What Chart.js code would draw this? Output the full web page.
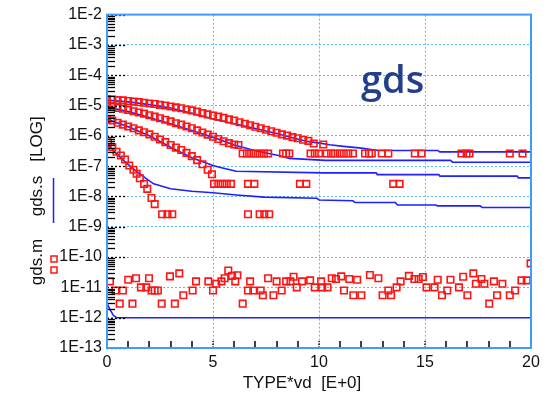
<!DOCTYPE html>
<html>
<head>
<meta charset="utf-8">
<script src="https://cdn.jsdelivr.net/npm/chart.js@4.4.1/dist/chart.umd.min.js"></script>
<style>
html,body{margin:0;padding:0;background:#fff;}
</style>
</head>
<body>
<canvas id="graph" width="553" height="399"></canvas>
<script>
// axis ticks
const xTickValues = [0, 5, 10, 15, 20];
const xTickLabels = ['0', '5', '10', '15', '20'];
const yTickValues = [1e-13, 1e-12, 1e-11, 1e-10, 1e-9, 1e-8, 1e-7, 1e-6, 1e-5, 1e-4, 1e-3, 1e-2];
const yTickLabels = ['1E-13', '1E-12', '1E-11', '1E-10', '1E-9', '1E-8', '1E-7', '1E-6', '1E-5', '1E-4', '1E-3', '1E-2'];

// simulated gds (blue lines)
const simVd1 = [0, 1, 2, 3, 4, 5, 6, 7, 8, 9.1, 9.6, 10.05, 10.5, 11.15, 11.9, 12.8, 15.6, 15.7, 20];
const simGds1 = [1.51e-5, 1.32e-5, 1.07e-5, 8.3e-6, 5.6e-6, 3.6e-6, 2.5e-6, 1.74e-6, 1.2e-6, 7.4e-7, 6.3e-7, 5.75e-7, 5.1e-7, 4.5e-7, 4.0e-7, 3.3e-7, 3.3e-7, 2.95e-7, 2.95e-7];
const simVd2 = [0, 1, 2, 3, 4, 5, 6, 7, 8.2, 8.6, 10.3, 16.2, 16.3, 20];
const simGds2 = [8.9e-6, 6.3e-6, 4.0e-6, 2.5e-6, 1.5e-6, 8.9e-7, 5.0e-7, 3.2e-7, 2.15e-7, 1.8e-7, 1.55e-7, 1.55e-7, 1.35e-7, 1.35e-7];
const simVd3 = [0, 1, 2, 3, 4, 5, 5.4, 6.1, 10.2, 12.7, 12.75, 15.65, 15.7, 19.35, 19.4, 20];
const simGds3 = [3.5e-6, 2.0e-6, 1.0e-6, 4.2e-7, 1.9e-7, 1.05e-7, 8.9e-8, 6.8e-8, 6.0e-8, 6.0e-8, 5.25e-8, 5.25e-8, 4.7e-8, 4.7e-8, 4.1e-8, 4.1e-8];
const simVd4 = [0, 0.4, 0.8, 1.43, 2.2, 3, 4, 5, 6.1, 7.4, 9.9, 10, 11.6, 11.7, 13.6, 13.7, 15.5, 15.6, 17.6, 17.7, 20];
const simGds4 = [5.6e-7, 2.8e-7, 1.5e-7, 6.3e-8, 2.6e-8, 1.8e-8, 1.48e-8, 1.32e-8, 1.12e-8, 9.5e-9, 8.7e-9, 7.6e-9, 7.2e-9, 6.3e-9, 6.3e-9, 5.25e-9, 5.25e-9, 4.9e-9, 4.9e-9, 4.3e-9, 4.3e-9];
const simVd5 = [0, 0.15, 0.3, 0.45, 20];
const simGds5 = [3.0e-12, 1.8e-12, 1.2e-12, 1.0e-12, 1.0e-12];

// measured gds (red squares)
const measVd1 = [0, 0.25, 0.5, 0.75, 1, 1.25, 1.5, 1.75, 2, 2.25, 2.5, 2.75, 3, 3.25, 3.5, 3.75, 4, 4.25, 4.5, 4.75, 5, 5.25, 5.5, 5.75, 6, 6.25, 6.5, 6.75, 7, 7.25, 7.5, 7.75, 8, 8.25, 8.5, 8.75, 9, 9.25, 9.5, 9.75, 10.2,
  10.36, 10.57, 10.76, 10.98, 11.17, 11.38, 11.6, 12.17, 12.36, 12.49, 12.96, 13.27, 14.52, 14.84, 16.72, 16.96, 17.1, 19.0, 19.6];
const measGds1 = [1.62e-5, 1.58e-5, 1.51e-5, 1.48e-5, 1.41e-5, 1.35e-5, 1.29e-5, 1.23e-5, 1.17e-5, 1.12e-5, 1.05e-5, 1.0e-5, 9.3e-6, 8.7e-6, 8.1e-6, 7.4e-6, 6.9e-6, 6.3e-6, 5.6e-6, 5.1e-6, 4.7e-6, 4.3e-6, 3.9e-6, 3.5e-6, 3.2e-6, 2.8e-6, 2.5e-6, 2.24e-6, 2.0e-6, 1.78e-6, 1.58e-6, 1.41e-6, 1.26e-6, 1.12e-6, 1.02e-6, 9.1e-7, 8.3e-7, 7.4e-7, 6.8e-7, 5.6e-7, 5.2e-7,
  2.6e-7, 2.6e-7, 2.6e-7, 2.6e-7, 2.6e-7, 2.6e-7, 2.6e-7, 2.6e-7, 2.6e-7, 2.6e-7, 2.6e-7, 2.6e-7, 2.6e-7, 2.6e-7, 2.6e-7, 2.6e-7, 2.6e-7, 2.6e-7, 2.6e-7];
const measVd2 = [0, 0.25, 0.5, 0.75, 1, 1.25, 1.5, 1.75, 2, 2.25, 2.5, 2.75, 3, 3.25, 3.5, 3.75, 4, 4.25, 4.5, 4.75, 5, 5.25, 5.5, 5.75, 6, 6.2,
  6.4, 6.6, 6.8, 7.0, 7.2, 7.4, 7.6, 8.3, 8.45, 8.6, 9.6, 9.8, 10.0];
const measGds2 = [9.5e-6, 8.9e-6, 8.3e-6, 7.8e-6, 7.1e-6, 6.5e-6, 5.9e-6, 5.4e-6, 4.8e-6, 4.3e-6, 3.8e-6, 3.4e-6, 3.0e-6, 2.6e-6, 2.35e-6, 2.04e-6, 1.78e-6, 1.51e-6, 1.29e-6, 1.1e-6, 9.3e-7, 7.9e-7, 6.6e-7, 5.75e-7, 5.2e-7, 5.0e-7,
  2.6e-7, 2.6e-7, 2.6e-7, 2.6e-7, 2.6e-7, 2.6e-7, 2.6e-7, 2.6e-7, 2.6e-7, 2.6e-7, 2.6e-7, 2.6e-7, 2.6e-7];
const measVd3 = [0, 0.25, 0.5, 0.75, 1, 1.25, 1.5, 1.75, 2, 2.25, 2.5, 2.75, 3, 3.25, 3.5, 3.75, 4, 4.25, 4.5, 4.75, 4.95,
  5.05, 5.25, 5.45, 5.65, 5.85, 6.65, 6.95, 9.1, 9.4, 13.5, 13.8];
const measGds3 = [3.5e-6, 3.2e-6, 2.7e-6, 2.35e-6, 2.04e-6, 1.78e-6, 1.51e-6, 1.32e-6, 1.12e-6, 9.3e-7, 7.6e-7, 6.2e-7, 5.0e-7, 4.1e-7, 3.4e-7, 2.75e-7, 2.14e-7, 1.58e-7, 1.15e-7, 7.6e-8, 5.4e-8,
  2.6e-8, 2.6e-8, 2.6e-8, 2.6e-8, 2.6e-8, 2.6e-8, 2.6e-8, 2.6e-8, 2.6e-8, 2.6e-8, 2.6e-8];
const measVd4 = [0.05, 0.25, 0.45, 0.65, 0.85, 1.05, 1.25, 1.4, 1.55, 1.75, 1.9, 2.1, 2.25, 2.6, 2.85, 3.08, 6.65, 7.2, 7.42, 7.65];
const measGds4 = [6.0e-7, 4.2e-7, 3.0e-7, 2.24e-7, 1.66e-7, 1.05e-7, 7.6e-8, 5.6e-8, 4.0e-8, 2.6e-8, 1.78e-8, 8.9e-9, 5.6e-9, 2.6e-9, 2.6e-9, 2.6e-9, 2.6e-9, 2.6e-9, 2.6e-9, 2.6e-9];
const measVd5 = [0.14, 0.4, 0.6, 0.75, 1.0, 1.2, 1.37, 1.6, 1.85, 1.98, 2.1, 2.25, 2.4, 2.58, 2.97, 3.2, 3.41, 3.6, 4.04, 4.2, 4.78,
  5.0, 5.15, 5.4, 5.55, 5.72, 5.9, 6.05, 6.15, 6.4, 6.65, 6.75, 6.9, 7.25, 7.35, 7.6, 7.85, 8.0, 8.24, 8.45, 8.65, 8.8, 8.95, 9.2, 9.58, 9.8,
  10.1, 10.15, 10.4, 10.6, 10.8, 11.05, 11.18, 11.43, 11.62, 11.8, 12.0, 12.4, 12.8, 13.0, 13.27, 13.4, 13.66, 13.85, 14.24, 14.5, 14.7, 14.9,
  15.07, 15.45, 15.6, 15.8, 16.05, 16.2, 16.6, 16.8, 17.0, 17.28, 17.4, 17.66, 17.8, 18.03, 18.25, 18.4, 18.65, 19.0, 19.25, 19.55, 19.8, 19.98];
const measGds5 = [1.58e-11, 7.9e-12, 2.9e-12, 7.9e-12, 1.78e-11, 2.9e-12, 2.0e-11, 1.0e-11, 1.0e-11, 2.0e-11, 7.9e-12, 7.9e-12, 7.9e-12, 2.9e-12, 2.3e-11, 2.9e-12, 2.9e-11, 5.5e-12, 7.9e-12, 1.58e-11, 1.58e-11,
  7.9e-12, 1.32e-11, 1.58e-11, 2.0e-11, 3.6e-11, 2.4e-11, 1.58e-11, 2.5e-11, 2.9e-12, 7.9e-12, 1.58e-11, 7.9e-12, 7.9e-12, 5.5e-12, 2.0e-11, 5.5e-12, 1.58e-11, 7.9e-12, 1.58e-11, 1.58e-11, 2.24e-11, 1.0e-11, 1.58e-11, 1.7e-11, 1.0e-11,
  1.58e-11, 1.0e-11, 1.0e-11, 2.0e-11, 1.9e-11, 2.3e-11, 7.9e-12, 1.9e-11, 5.5e-12, 1.78e-11, 5.5e-12, 2.57e-11, 2.0e-11, 5.5e-12, 7.9e-12, 5.5e-12, 1.0e-11, 1.58e-11, 2.4e-11, 1.9e-11, 1.9e-11, 2.2e-11,
  1.0e-11, 1.0e-11, 1.78e-11, 5.5e-12, 7.9e-12, 1.78e-11, 1.0e-11, 2.24e-11, 5.5e-12, 2.9e-11, 1.32e-11, 1.9e-11, 1.32e-11, 2.9e-12, 1.58e-11, 5.5e-12, 1.32e-11, 5.5e-12, 7.9e-12, 1.7e-11, 1.7e-11, 6.2e-11];

const simVd = [simVd1, simVd2, simVd3, simVd4, simVd5];
const simGds = [simGds1, simGds2, simGds3, simGds4, simGds5];
const measVd = [measVd1, measVd2, measVd3, measVd4, measVd5];
const measGds = [measGds1, measGds2, measGds3, measGds4, measGds5];

const BLUE = '#1f1fff';
const RED = '#ff1414';
const GRID = '#5cb8ff';
const FRAME = '#3f9cff';
const FONT = '"Liberation Sans", Arial, sans-serif';

function pairs(xs, ys) {
  return xs.map((x, i) => ({x: x, y: ys[i]}));
}

const datasets = [];
measVd.forEach((xs, i) => {
  datasets.push({
    label: 'gds.m ' + (i + 1),
    data: pairs(xs, measGds[i]),
    showLine: false,
    pointStyle: 'rect',
    pointRadius: 4.6,
    pointBorderColor: RED,
    pointBackgroundColor: 'rgba(0,0,0,0)',
    pointBorderWidth: 1.6,
    order: 1
  });
});
simVd.forEach((xs, i) => {
  datasets.push({
    label: 'gds.s ' + (i + 1),
    data: pairs(xs, simGds[i]),
    showLine: true,
    borderColor: BLUE,
    borderWidth: 1.6,
    pointRadius: 0,
    tension: 0,
    fill: false,
    order: 2
  });
});

const decor = {
  id: 'decor',
  afterDatasetsDraw(chart) {
    const ctx = chart.ctx;
    const a = chart.chartArea;
    const xs = chart.scales.x;
    const ys = chart.scales.y;
    ctx.save();
    // y minor ticks
    ctx.strokeStyle = '#000';
    ctx.lineWidth = 1.3;
    for (let e = -13; e < -2; e++) {
      for (let m = 2; m <= 9; m++) {
        const py = Math.round(ys.getPixelForValue(m * Math.pow(10, e))) + 0.5;
        ctx.beginPath();
        ctx.moveTo(a.left, py);
        ctx.lineTo(a.left + 8, py);
        ctx.stroke();
      }
    }
    // y decade markers (black dotted)
    ctx.setLineDash([2, 2]);
    ctx.lineWidth = 1.3;
    yTickValues.forEach(v => {
      const py = Math.round(ys.getPixelForValue(v)) + 0.5;
      ctx.beginPath();
      ctx.moveTo(a.left, py);
      ctx.lineTo(a.left + 18, py);
      ctx.stroke();
    });
    // x minor ticks
    ctx.setLineDash([]);
    ctx.lineWidth = 1.5;
    for (let v = 1; v < 20; v++) {
      const px = Math.round(xs.getPixelForValue(v));
      ctx.setLineDash(v % 5 === 0 ? [1.5, 1.5] : []);
      ctx.beginPath();
      ctx.moveTo(px, a.bottom);
      ctx.lineTo(px, a.bottom - 7);
      ctx.stroke();
    }
    ctx.setLineDash([]);
    // frame
    ctx.strokeStyle = FRAME;
    ctx.lineWidth = 2;
    ctx.strokeRect(a.left, a.top, a.right - a.left, a.bottom - a.top);

    // x axis title
    ctx.fillStyle = '#111';
    ctx.font = '17px ' + FONT;
    ctx.textAlign = 'center';
    ctx.textBaseline = 'middle';
    ctx.fillText('TYPE*vd  [E+0]', 302, 383);

    // y axis title pieces
    const yTitle = [['gds.m', 262], ['gds.s', 196], ['[LOG]', 139]];
    yTitle.forEach(t => {
      ctx.save();
      ctx.translate(37, t[1]);
      ctx.rotate(-Math.PI / 2);
      ctx.fillText(t[0], 0, 0);
      ctx.restore();
    });
    // legend markers beside y title
    ctx.strokeStyle = RED;
    ctx.lineWidth = 1.5;
    ctx.strokeRect(51, 256, 6, 6);
    ctx.strokeRect(51, 267, 6, 6);
    ctx.strokeStyle = BLUE;
    ctx.lineWidth = 1.5;
    ctx.beginPath();
    ctx.moveTo(53.5, 178);
    ctx.lineTo(53.5, 223);
    ctx.stroke();

    // plot label
    ctx.fillStyle = '#233e8b';
    ctx.font = '600 38px "Open Sans", sans-serif';
    ctx.textAlign = 'left';
    ctx.textBaseline = 'alphabetic';
    ctx.fillText('gds', 361, 93);
    ctx.restore();
  }
};

const myChart = document.getElementById('graph').getContext('2d');
const gdsChart = new Chart(myChart, {
  type: 'scatter',
  data: {datasets: datasets},
  options: {
    responsive: false,
    animation: false,
    devicePixelRatio: 1,
    layout: {padding: {left: 0, right: 22, top: 12, bottom: 0}},
    plugins: {legend: {display: false}, tooltip: {enabled: false}},
    scales: {
      x: {
        type: 'linear',
        min: 0,
        max: 20,
        afterBuildTicks: s => { s.ticks = xTickValues.map(v => ({value: v})); },
        afterFit: s => { s.height = 51; },
        ticks: {
          callback: (v, i) => xTickLabels[i],
          font: {family: FONT, size: 16},
          color: '#111',
          padding: 5,
          maxRotation: 0
        },
        grid: {
          color: c => (c.tick && c.tick.value > 0 && c.tick.value < 20) ? GRID : 'rgba(0,0,0,0)',
          lineWidth: 1,
          drawTicks: false
        },
        border: {display: false, dash: [2, 2]}
      },
      y: {
        type: 'logarithmic',
        min: 1e-13,
        max: 1e-2,
        afterBuildTicks: s => { s.ticks = yTickValues.map(v => ({value: v})); },
        afterFit: s => { s.width = 107; },
        ticks: {
          callback: (v, i) => yTickLabels[i],
          font: {family: FONT, size: 16},
          color: '#111',
          padding: 5,
          autoSkip: false
        },
        grid: {
          color: c => (c.tick && c.index > 0 && c.index < yTickValues.length - 1) ? GRID : 'rgba(0,0,0,0)',
          lineWidth: 1,
          drawTicks: false
        },
        border: {display: false, dash: [2, 2]}
      }
    }
  },
  plugins: [decor]
});
</script>
</body>
</html>
